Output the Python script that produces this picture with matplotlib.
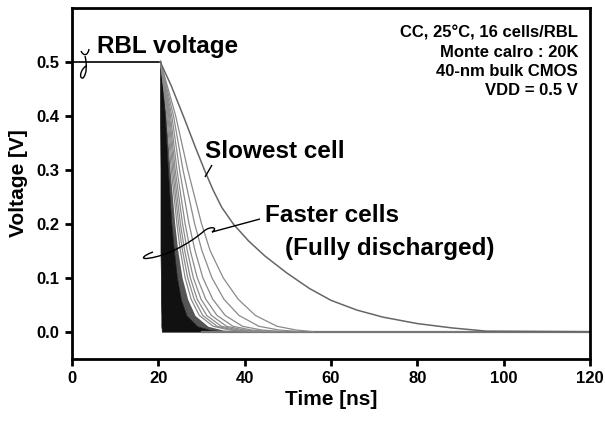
import numpy as np
import matplotlib
matplotlib.use("Agg")
import matplotlib.pyplot as plt
from matplotlib.path import Path
from matplotlib.patches import PathPatch

plt.rcParams["font.family"] = ["Liberation Sans", "DejaVu Sans"]
plt.rcParams["font.weight"] = "bold"

# === Data ===
# precharge (RBL voltage before the read)
precharge_t = [0.0, 20.5]
precharge_v = [0.5, 0.5]

# slowest cell waveform
slow_t = [20.4, 23.0, 26.0, 28.5, 30.8, 32.7, 34.7, 37.4, 40.9, 44.7, 49.7, 55.0, 60.0,
          66.0, 72.0, 80.0, 88.0, 96.0, 120.0]
slow_v = [0.5, 0.455, 0.395, 0.343, 0.297, 0.262, 0.230, 0.199, 0.168, 0.140, 0.109,
          0.080, 0.058, 0.040, 0.027, 0.015, 0.007, 0.001, 0.0]

# faster cells: time [ns] at which each curve crosses these voltage levels
levels = [0.5, 0.4, 0.3, 0.2, 0.15, 0.1, 0.06, 0.03, 0.01, 0.003, 0.0]
dense_left = [20.4, 20.4, 20.5, 20.5, 20.5, 20.6, 20.6, 20.7, 20.7, 20.8, 20.8]
dense_edge = [20.5, 21.5, 22.2, 23.0, 23.6, 24.3, 25.2, 26.5, 29.0, 32.0, 36.0]
speckle_edge = [20.5, 21.8, 22.7, 23.8, 24.5, 25.5, 26.8, 28.5, 31.5, 35.0, 40.0]
fast_times = [
    [20.5, 22.0, 23.0, 24.3, 25.1, 26.2, 27.6, 29.5, 32.7, 36.5, 42.0],
    [20.5, 22.2, 23.3, 24.7, 25.6, 26.8, 28.3, 30.3, 33.6, 37.5, 43.0],
    [20.5, 22.4, 23.6, 25.1, 26.1, 27.4, 29.0, 31.2, 34.6, 38.6, 44.0],
    [20.5, 22.6, 23.9, 25.6, 26.7, 28.1, 29.9, 32.3, 35.8, 40.0, 45.5],
    [20.5, 22.8, 24.3, 26.2, 27.4, 29.0, 31.0, 33.6, 37.3, 41.6, 47.0],
    [20.5, 23.1, 24.9, 27.1, 28.5, 30.3, 32.6, 35.5, 39.5, 44.0, 49.5],
    [20.5, 23.5, 25.7, 28.4, 30.1, 32.4, 35.2, 38.7, 43.3, 48.0, 53.0],
    [20.5, 24.0, 26.8, 30.0, 32.0, 35.0, 38.5, 42.5, 47.5, 52.0, 56.0],
]

x_ticks = [0, 20, 40, 60, 80, 100, 120]
y_ticks = [0.0, 0.1, 0.2, 0.3, 0.4, 0.5]

conditions = ["CC, 25°C, 16 cells/RBL", "Monte calro : 20K", "40-nm bulk CMOS", "VDD = 0.5 V"]

# === Plot ===
W, H = 605, 422
fig = plt.figure(figsize=(W / 100, H / 100), dpi=100)
ax = fig.add_axes([72 / W, 1 - 358.7 / H, (590 - 72) / W, (358.7 - 7.5) / H])

ax.plot(precharge_t, precharge_v, color="black", lw=1.2)
ax.plot([30, 120], [0, 0], color="#777777", lw=1.6)

ax.fill_betweenx(levels, speckle_edge, dense_edge, color="#555555", lw=0)
for row in fast_times:
    ax.plot(row, levels, color="#8a8a8a", lw=0.9)
ax.fill_betweenx(levels, dense_left, dense_edge, color="#111111", lw=0.5, edgecolor="#111111")

ax.plot(slow_t, slow_v, color="#666666", lw=1.1)

ax.set_xlim(0, 120)
ax.set_ylim(-0.05, 0.6)
ax.set_xticks(x_ticks)
ax.set_xticklabels([str(v) for v in x_ticks])
ax.set_yticks(y_ticks)
ax.set_yticklabels([f"{v:.1f}" for v in y_ticks])
ax.tick_params(direction="out", length=5, width=2, labelsize=12, pad=4)
for s in ax.spines.values():
    s.set_linewidth(2)

ax.set_xlabel("Time [ns]", fontsize=15, fontweight="bold", labelpad=3)
ax.set_ylabel("Voltage [V]", fontsize=15, fontweight="bold", labelpad=6)

# labels
fig.text(97 / W, 1 - 46 / H, "RBL voltage", fontsize=17.5, fontweight="bold", va="center", ha="left")
fig.text(205 / W, 1 - 152 / H, "Slowest cell", fontsize=17.5, fontweight="bold", va="center", ha="left")
fig.text(265 / W, 1 - 216 / H, "Faster cells", fontsize=17.5, fontweight="bold", va="center", ha="left")
fig.text(285 / W, 1 - 248 / H, "(Fully discharged)", fontsize=17.5, fontweight="bold", va="center", ha="left")
for i, line in enumerate(conditions):
    fig.text(578 / W, 1 - (33 + 19.3 * i) / H, line, fontsize=12, fontweight="bold",
             va="center", ha="right")


def px_path(verts, codes, lw=1.0):
    pts = [(x / W, 1 - y / H) for x, y in verts]
    fig.add_artist(PathPatch(Path(pts, codes), transform=fig.transFigure,
                             fill=False, lw=lw, color="black"))


M, C, L = Path.MOVETO, Path.CURVE4, Path.LINETO
# break mark on the precharge line
px_path([(81, 51), (84, 57), (88, 55), (89, 49)], [M, C, C, C])
px_path([(85, 56), (87, 64), (87, 74), (83, 78), (79, 79), (80, 70), (86, 66)],
        [M, C, C, C, C, C, C])
# pointer to slowest cell
px_path([(212, 165), (205, 177)], [M, L])
# leader for faster cells
px_path([(260, 219), (212, 232), (219, 227), (210, 226), (204, 231),
         (188, 245), (165, 256), (150, 258), (140, 260), (142, 256), (153, 252)],
        [M, L, C, C, C, C, C, C, C, C, C])

fig.savefig("out.png", dpi=100)
